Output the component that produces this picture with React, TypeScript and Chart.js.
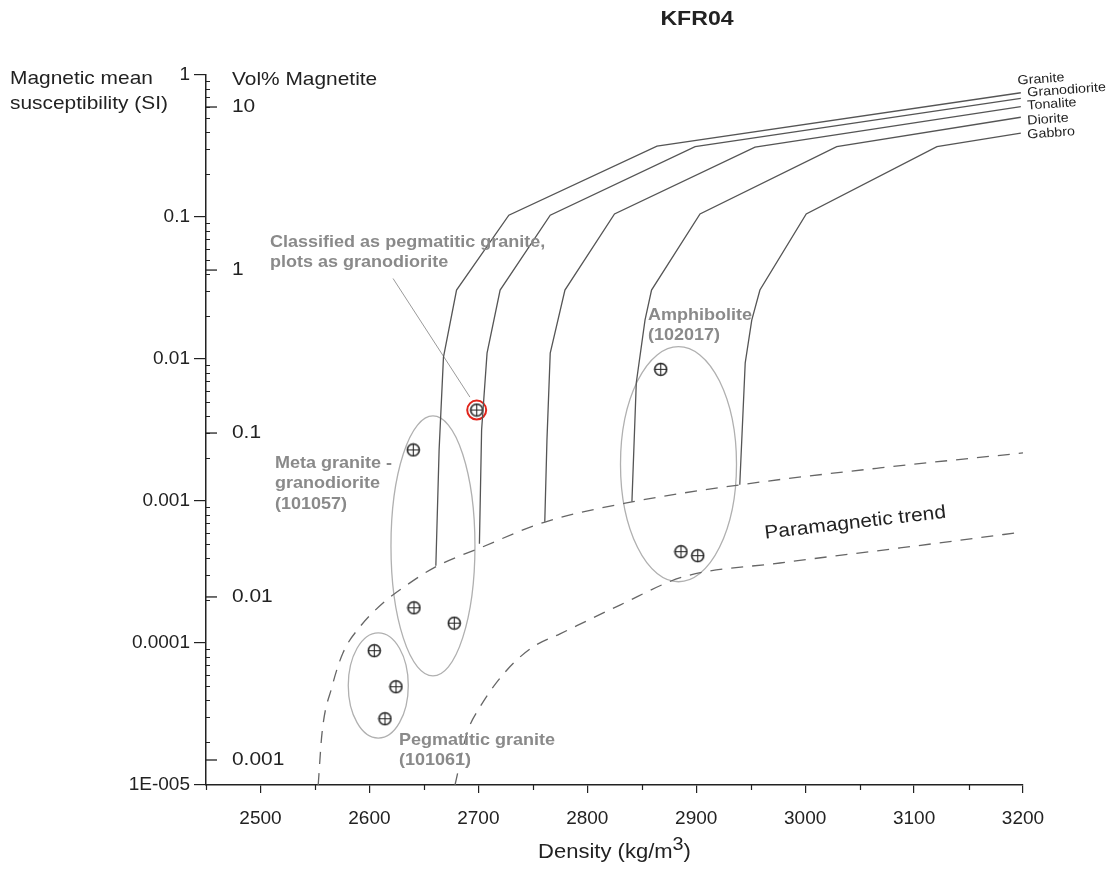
import React, { useEffect, useRef } from "react";
import { Chart, registerables } from "chart.js";

Chart.register(...registerables);

// ---------- axes ----------
const xMajorTicks = [2500, 2600, 2700, 2800, 2900, 3000, 3100, 3200];
const xMinorTicks = [2450, 2550, 2650, 2750, 2850, 2950, 3050, 3150];
const yDecadeValues = [1e-5, 1e-4, 1e-3, 1e-2, 1e-1, 1];
const yDecadeLabels = ["1E-005", "0.0001", "0.001", "0.01", "0.1", "1"];
const volPctLabels = ["10", "1", "0.1", "0.01", "0.001"];
const volPctSusceptibility = [0.595, 0.0423, 0.00301, 0.000211, 0.000015];

// ---------- rock-type curves ----------
const rockNames = ["Granite", "Granodiorite", "Tonalite", "Diorite", "Gabbro"];
const graniteDensity = [2661, 2664, 2668, 2680, 2728, 2864, 3198];
const graniteSusc = [3.5e-4, 2.3e-3, 0.0103, 0.0306, 0.103, 0.316, 0.75];
const granodioriteDensity = [2701, 2703, 2708, 2720, 2766, 2899, 3198];
const granodioriteSusc = [5.0e-4, 3.16e-3, 0.011, 0.0306, 0.103, 0.313, 0.685];
const tonaliteDensity = [2761, 2763, 2766, 2779.5, 2825, 2954, 3198];
const tonaliteSusc = [7.15e-4, 2.7e-3, 0.011, 0.0306, 0.105, 0.31, 0.598];
const dioriteDensity = [2841, 2845, 2853, 2859, 2903.5, 3029, 3198];
const dioriteSusc = [9.9e-4, 6.8e-3, 0.0188, 0.0306, 0.105, 0.313, 0.504];
const gabbroDensity = [2940, 2945, 2951, 2958.5, 3001, 3121, 3198];
const gabbroSusc = [1.3e-3, 9.4e-3, 0.0188, 0.0306, 0.105, 0.313, 0.389];
const rockLabelDensity = [3195, 3204, 3204, 3204, 3204];
const rockLabelSusc = [0.907, 0.747, 0.605, 0.474, 0.378];

// ---------- paramagnetic trend (dashed) ----------
const paraUpperDensity = [2553, 2556.5, 2565.6, 2575.7, 2591.3, 2612.5, 2637.2, 2662, 2701.5, 2761.2, 2841, 2940.2, 3068.7, 3200];
const paraUpperSusc = [1e-5, 2.32e-5, 4.9e-5, 8.5e-5, 1.3e-4, 1.91e-4, 2.65e-4, 3.48e-4, 4.67e-4, 7.11e-4, 9.85e-4, 1.3e-3, 1.71e-3, 2.18e-3];
const paraLowerDensity = [2678.6, 2689.6, 2701.5, 2726.3, 2750.2, 2775, 2830, 2887.9, 2976.9, 3087, 3200];
const paraLowerSusc = [1e-5, 2.32e-5, 3.54e-5, 6.46e-5, 9.38e-5, 1.16e-4, 1.85e-4, 2.92e-4, 3.66e-4, 4.67e-4, 6.05e-4];

// ---------- samples ----------
const sampleDensity = [2604.5, 2624.4, 2614.3, 2640.9, 2677.9, 2640.3, 2698.5, 2867.4, 2886, 2901.4];
const sampleSusc = [8.83e-5, 4.92e-5, 2.93e-5, 1.77e-4, 1.38e-4, 2.29e-3, 4.37e-3, 8.46e-3, 4.4e-4, 4.12e-4];
const highlightDensity = [2698.5];
const highlightSusc = [4.37e-3];
const leaderDensity = [2621.7, 2692.3];
const leaderSusc = [0.0369, 5.39e-3];

// ---------- group ellipses ----------
const ellipseDensityMin = [2580.6, 2619.8, 2830.5];
const ellipseDensityMax = [2635.7, 2696.9, 2937];
const ellipseSuscMin = [2.14e-5, 5.86e-5, 2.7e-4];
const ellipseSuscMax = [1.18e-4, 3.97e-3, 0.01222];

// ---------- annotations ----------
const noteLines = [
  ["Classified as pegmatitic granite,", "plots as granodiorite"],
  ["Amphibolite", "(102017)"],
  ["Meta granite -", "granodiorite", "(101057)"],
  ["Pegmatitic granite", "(101061)"],
];
const noteDensity = [2508.7, 2855.7, 2513.3, 2627.1];
const noteSusc = [0.0667, 0.0204, 1.85e-3, 2.07e-5];
const trendLabel = "Paramagnetic trend";
const trendDensity = 3046;
const trendSusc = 7.0e-4;

const FONT = '"Liberation Sans", Arial, Helvetica, sans-serif';
const INK = "#222222";
const CURVE = "#555555";
const NOTE = "#8a8a8a";
const STRETCH = 1.1;

const toXY = (xs: number[], ys: number[]) => xs.map((x, i) => ({ x, y: ys[i] }));

function text(ctx: any, t: string, x: number, y: number, sx = STRETCH, rot = 0) {
  ctx.save();
  ctx.translate(x, y);
  if (rot) ctx.rotate(rot);
  ctx.scale(sx, 1);
  ctx.fillText(t, 0, 0);
  ctx.restore();
}

const decorPlugin = {
  id: "decor",
  beforeDatasetsDraw(chart: any) {
    const ctx = chart.ctx;
    const xs = chart.scales.x;
    const ys = chart.scales.y;
    ctx.save();
    ctx.strokeStyle = "#b0b0b0";
    ctx.lineWidth = 1.3;
    for (let i = 0; i < ellipseDensityMin.length; i++) {
      const x1 = xs.getPixelForValue(ellipseDensityMin[i]);
      const x2 = xs.getPixelForValue(ellipseDensityMax[i]);
      const y1 = ys.getPixelForValue(ellipseSuscMax[i]);
      const y2 = ys.getPixelForValue(ellipseSuscMin[i]);
      ctx.beginPath();
      ctx.ellipse((x1 + x2) / 2, (y1 + y2) / 2, (x2 - x1) / 2, (y2 - y1) / 2, 0, 0, Math.PI * 2);
      ctx.stroke();
    }
    ctx.restore();
  },
  afterDraw(chart: any) {
    const ctx = chart.ctx;
    const xs = chart.scales.x;
    const ys = chart.scales.y;
    const area = chart.chartArea;
    ctx.save();

    // title
    ctx.fillStyle = INK;
    ctx.font = `bold 21px ${FONT}`;
    ctx.textAlign = "center";
    ctx.textBaseline = "middle";
    text(ctx, "KFR04", 697, 19, 1.1);

    // left axis titles
    ctx.font = `19px ${FONT}`;
    ctx.textAlign = "left";
    text(ctx, "Magnetic mean", 10, 79);
    text(ctx, "susceptibility (SI)", 10, 104);
    text(ctx, "Vol% Magnetite", area.left + 26, 80);

    // minor y ticks (inside)
    ctx.strokeStyle = INK;
    ctx.lineWidth = 1;
    for (let n = -5; n < 0; n++) {
      for (let m = 2; m <= 9; m++) {
        const y = Math.round(ys.getPixelForValue(m * Math.pow(10, n))) + 0.5;
        ctx.beginPath();
        ctx.moveTo(area.left, y);
        ctx.lineTo(area.left + 4, y);
        ctx.stroke();
      }
    }
    // Vol% magnetite ticks and labels
    ctx.lineWidth = 1.3;
    ctx.font = `19px ${FONT}`;
    volPctSusceptibility.forEach((v, i) => {
      const y = ys.getPixelForValue(v);
      ctx.beginPath();
      ctx.moveTo(area.left, y);
      ctx.lineTo(area.left + 11, y);
      ctx.stroke();
      text(ctx, volPctLabels[i], area.left + 26, y);
    });

    // minor x ticks
    ctx.lineWidth = 1.2;
    xMinorTicks.forEach((v) => {
      const x = Math.round(xs.getPixelForValue(v)) + 0.5;
      ctx.beginPath();
      ctx.moveTo(x, area.bottom);
      ctx.lineTo(x, area.bottom + 5);
      ctx.stroke();
    });

    // x axis title with superscript
    const main = "Density (kg/m";
    const sxT = 1.1;
    ctx.font = `20px ${FONT}`;
    const w1 = ctx.measureText(main).width * sxT;
    const w2 = ctx.measureText(")").width * sxT;
    ctx.font = `18px ${FONT}`;
    const wsup = ctx.measureText("3").width * sxT;
    const total = w1 + wsup + w2;
    const cx = (area.left + area.right) / 2;
    const sx0 = cx - total / 2;
    const ty = 852;
    ctx.font = `20px ${FONT}`;
    text(ctx, main, sx0, ty, sxT);
    ctx.font = `18px ${FONT}`;
    text(ctx, "3", sx0 + w1, ty - 7, sxT);
    ctx.font = `20px ${FONT}`;
    text(ctx, ")", sx0 + w1 + wsup, ty, sxT);

    // gray notes
    ctx.fillStyle = NOTE;
    ctx.font = `bold 17px ${FONT}`;
    noteLines.forEach((lines, i) => {
      const x = xs.getPixelForValue(noteDensity[i]);
      const y = ys.getPixelForValue(noteSusc[i]);
      lines.forEach((t, j) => text(ctx, t, x, y + j * 20.5, 1.06));
    });

    // rock labels
    ctx.fillStyle = INK;
    ctx.font = `13px ${FONT}`;
    rockNames.forEach((name, i) => {
      const x = xs.getPixelForValue(rockLabelDensity[i]);
      const y = ys.getPixelForValue(rockLabelSusc[i]);
      text(ctx, name, x, y, STRETCH, -0.07);
    });

    // paramagnetic trend label
    ctx.font = `19px ${FONT}`;
    ctx.textAlign = "center";
    text(ctx, trendLabel, xs.getPixelForValue(trendDensity), ys.getPixelForValue(trendSusc), STRETCH, -0.115);

    ctx.restore();
  },
};

function makeMarker(): HTMLCanvasElement {
  const c = document.createElement("canvas");
  c.width = 15;
  c.height = 15;
  const g = c.getContext("2d")!;
  g.fillStyle = "#ffffff";
  g.strokeStyle = "#262626";
  g.lineWidth = 1.6;
  g.beginPath();
  g.arc(7.5, 7.5, 6, 0, Math.PI * 2);
  g.fill();
  g.stroke();
  g.lineWidth = 1.1;
  g.beginPath();
  g.moveTo(1.5, 7.5);
  g.lineTo(13.5, 7.5);
  g.moveTo(7.5, 1.5);
  g.lineTo(7.5, 13.5);
  g.stroke();
  return c;
}

export default function App() {
  const ref = useRef<HTMLCanvasElement>(null);
  useEffect(() => {
    if (!ref.current) return;
    const marker = makeMarker();
    const curve = (xs: number[], ys: number[]) => ({
      data: toXY(xs, ys),
      showLine: true,
      borderColor: CURVE,
      borderWidth: 1.3,
      pointRadius: 0,
      tension: 0,
    });
    const dashed = (xs: number[], ys: number[]) => ({
      data: toXY(xs, ys),
      showLine: true,
      borderColor: "#666666",
      borderWidth: 1.3,
      borderDash: [12, 9],
      pointRadius: 0,
      tension: 0.3,
      cubicInterpolationMode: "monotone",
    });
    const chart = new Chart(ref.current, {
      type: "scatter",
      data: {
        datasets: [
          curve(graniteDensity, graniteSusc),
          curve(granodioriteDensity, granodioriteSusc),
          curve(tonaliteDensity, tonaliteSusc),
          curve(dioriteDensity, dioriteSusc),
          curve(gabbroDensity, gabbroSusc),
          dashed(paraUpperDensity, paraUpperSusc),
          dashed(paraLowerDensity, paraLowerSusc),
          {
            data: toXY(leaderDensity, leaderSusc),
            showLine: true,
            borderColor: "#9a9a9a",
            borderWidth: 1,
            pointRadius: 0,
          },
          {
            data: toXY(sampleDensity, sampleSusc),
            pointStyle: marker,
            pointRadius: 7,
          },
          {
            data: toXY(highlightDensity, highlightSusc),
            pointStyle: "circle",
            pointRadius: 9.5,
            borderColor: "#e0251c",
            borderWidth: 2,
            backgroundColor: "rgba(0,0,0,0)",
          },
        ] as any,
      },
      options: {
        animation: false,
        responsive: false,
        maintainAspectRatio: false,
        layout: { padding: { left: 0, right: 88, top: 75, bottom: 0 } },
        plugins: { legend: { display: false }, tooltip: { enabled: false }, title: { display: false } },
        scales: {
          x: {
            type: "linear",
            min: 2450,
            max: 3200,
            afterBuildTicks: (s: any) => {
              s.ticks = xMajorTicks.map((v) => ({ value: v }));
            },
            afterFit: (s: any) => {
              s.height = 86;
            },
            grid: { display: true, drawOnChartArea: false, drawTicks: true, tickLength: 8, color: INK, lineWidth: 1.2 },
            border: { display: true, color: INK, width: 1.5 },
            ticks: {
              autoSkip: false,
              maxRotation: 0,
              padding: 14,
              color: INK,
              font: { family: FONT, size: 19 },
              callback: (v: any) => String(v),
            },
          },
          y: {
            type: "logarithmic",
            min: 1e-5,
            max: 1,
            afterBuildTicks: (s: any) => {
              s.ticks = yDecadeValues.map((v) => ({ value: v, major: true }));
            },
            afterFit: (s: any) => {
              s.width = 206;
            },
            grid: { display: true, drawOnChartArea: false, drawTicks: true, tickLength: 12, color: INK, lineWidth: 1.2 },
            border: { display: true, color: INK, width: 1.5 },
            ticks: {
              autoSkip: false,
              padding: 4,
              color: INK,
              font: { family: FONT, size: 19 },
              callback: (v: any) => {
                const i = yDecadeValues.findIndex((d) => Math.abs(Math.log10(d) - Math.log10(v)) < 1e-6);
                return i >= 0 ? yDecadeLabels[i] : "";
              },
            },
          },
        },
      },
      plugins: [decorPlugin],
    } as any);
    return () => chart.destroy();
  }, []);
  return (
    <div style={{ position: "absolute", left: 0, top: 0, width: 1111, height: 871, background: "#fff" }}>
      <canvas ref={ref} width={1111} height={871} style={{ width: 1111, height: 871 }} />
    </div>
  );
}
